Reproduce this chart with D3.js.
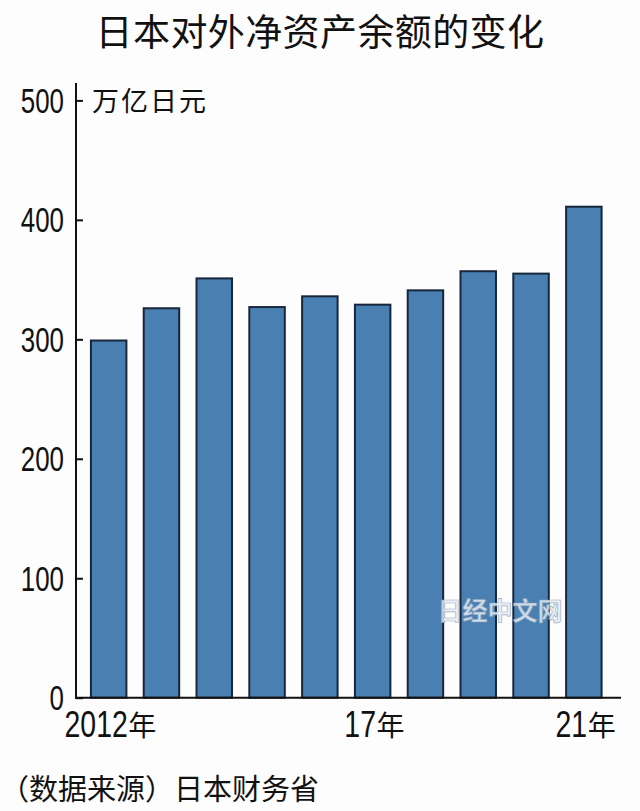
<!DOCTYPE html>
<html>
<head>
<meta charset="utf-8">
<script src="https://cdn.jsdelivr.net/npm/d3@7"></script>
<style>
  html, body { margin: 0; padding: 0; background: #fdfdfd; }
  svg { display: block; }
</style>
</head>
<body>
<script>
const years = ["2012","2013","2014","2015","2016","2017","2018","2019","2020","2021"];
const values = [299, 326, 351, 327, 336, 329, 341, 357, 355, 411];
const yTicks = [0, 100, 200, 300, 400, 500];
const xLabels = {"2012": "2012年", "2017": "17年", "2021": "21年"};
const title = "日本对外净资产余额的变化";
const unitLabel = "万亿日元";
const sourceLabel = "（数据来源）日本财务省";
const watermark = "日经中文网";

const W = 640, H = 811;
const svg = d3.select("body").append("svg").attr("width", W).attr("height", H);
svg.append("rect").attr("width", W).attr("height", H).attr("fill", "#fdfdfd");

const cjk = "'Noto Sans CJK SC', 'Noto Sans', sans-serif";
const num = "'Liberation Sans', Arial, sans-serif";
const ySx = 0.74;   // horizontal squeeze of tick digits
const xSx = 0.768;  // horizontal squeeze of year digits
const xDigitW = 0.556 * 37 * xSx;

const axisX = 76, x0 = 75.5, x1 = 617, baseY = 697.7, topY = 100.4;

const x = d3.scaleBand().domain(years).range([x0, x1]).paddingInner(0.328).paddingOuter(0.292);
const y = d3.scaleLinear().domain([0, 500]).range([baseY, topY]);

// title
svg.append("text").attr("x", 320).attr("y", 46).attr("text-anchor", "middle")
  .attr("font-family", cjk).attr("font-size", 37).attr("letter-spacing", 0.4).attr("fill", "#111").text(title);

// bars
svg.append("g").selectAll("rect").data(years).join("rect")
  .attr("x", d => x(d))
  .attr("y", (d, i) => y(values[i]))
  .attr("width", x.bandwidth())
  .attr("height", (d, i) => y(0) - y(values[i]))
  .attr("fill", "#4a80b1")
  .attr("stroke", "#17263a")
  .attr("stroke-width", 2);

// y axis ticks (inward)
const yAxis = d3.axisRight(y).tickValues(yTicks).tickSize(7).tickFormat("");
const gy = svg.append("g").attr("transform", `translate(${axisX},0)`).call(yAxis);
gy.select(".domain").remove();
gy.selectAll(".tick line").attr("stroke", "#111").attr("stroke-width", 2);
svg.append("line").attr("x1", axisX).attr("x2", axisX).attr("y1", 83).attr("y2", baseY + 1)
  .attr("stroke", "#111").attr("stroke-width", 2);
svg.append("g").selectAll("text").data(yTicks).join("text")
  .attr("transform", d => `translate(64,${y(d)}) scale(${ySx},1)`)
  .attr("dy", "0.36em").attr("text-anchor", "end")
  .attr("font-family", num).attr("font-size", 35)
  .attr("fill", "#111").text(d => d);

// unit label
svg.append("text").attr("x", 92).attr("y", 111).attr("font-family", cjk).attr("font-size", 27)
  .attr("letter-spacing", 2).attr("fill", "#111").text(unitLabel);

// baseline
svg.append("line").attr("x1", axisX - 1).attr("x2", 621).attr("y1", baseY).attr("y2", baseY)
  .attr("stroke", "#111").attr("stroke-width", 2);

// x labels
const xl = svg.append("g").selectAll("g").data(years.filter(d => xLabels[d])).join("g");
xl.each(function(d) {
  const g = d3.select(this);
  const digits = xLabels[d].replace("年", "");
  const nW = digits.length * xDigitW;
  const total = nW + 28;
  const start = x(d) + x.bandwidth() / 2 - total / 2 + 1.5;
  g.append("text").attr("transform", `translate(${start},737) scale(${xSx},1)`)
    .attr("font-family", num).attr("font-size", 37).attr("fill", "#111").text(digits);
  g.append("text").attr("x", start + nW + 0.5).attr("y", 736)
    .attr("font-family", cjk).attr("font-size", 28).attr("fill", "#111").text("年");
});

// watermark
svg.append("text").attr("x", 500).attr("y", 620).attr("text-anchor", "middle")
  .attr("font-family", cjk).attr("font-size", 25).attr("font-weight", "bold")
  .attr("fill", "#e6edf4").attr("stroke", "#8fa5ba").attr("stroke-width", 0.7)
  .attr("opacity", 0.85).text(watermark);

// source
svg.append("text").attr("x", 0).attr("y", 800).attr("font-family", cjk).attr("font-size", 29)
  .attr("fill", "#111").text(sourceLabel);
</script>
</body>
</html>
